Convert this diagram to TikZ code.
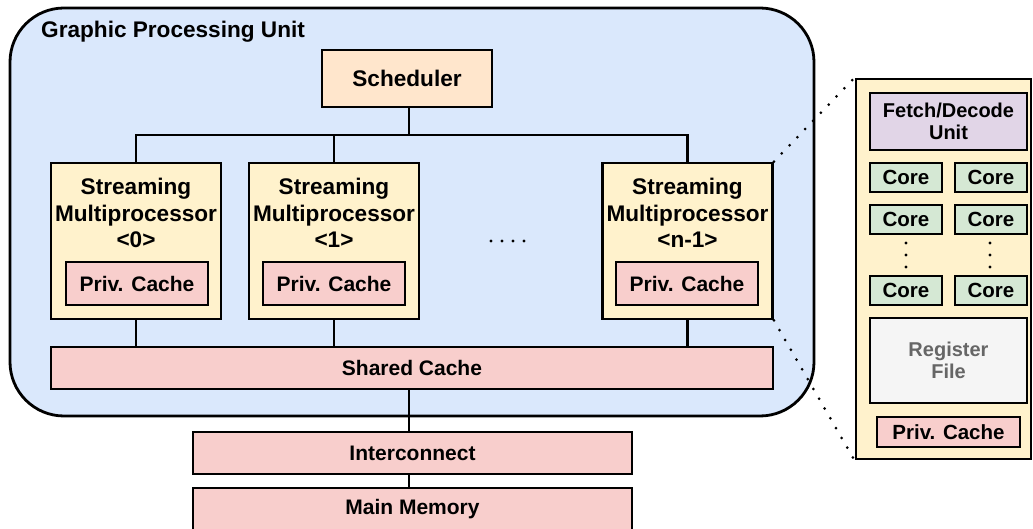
\documentclass[tikz,border=0pt]{standalone}
\usepackage{fontspec}
\setmainfont{Liberation Sans}
\definecolor{gpufill}{HTML}{DAE8FC}
\definecolor{schedfill}{HTML}{FFE6CC}
\definecolor{smfill}{HTML}{FFF2CC}
\definecolor{cachefill}{HTML}{F8CECC}
\definecolor{corefill}{HTML}{D5E8D4}
\definecolor{fetchfill}{HTML}{E1D5E7}
\definecolor{regfill}{HTML}{F5F5F5}
\definecolor{regtext}{HTML}{666666}
\tikzset{
  unit/.style={draw=black, line width=2.8pt, inner sep=0pt, align=center,
    font=\bfseries\fontsize{21}{26}\selectfont},
  smbox/.style={unit, fill=smfill, minimum width=170pt, minimum height=156pt},
  cachebox/.style={unit, fill=cachefill},
  corebox/.style={unit, fill=corefill, minimum width=72pt, minimum height=29pt,
    font=\bfseries\fontsize{20.5}{25}\selectfont},
  wire/.style={line width=2.6pt},
  zoomline/.style={line width=3pt, line cap=round, dash pattern=on 0pt off 11.3pt},
  dotmark/.style={fill=black, inner sep=0pt, minimum size=3.2pt, circle},
  biglabel/.style={font=\bfseries\fontsize{22.6}{26.5}\selectfont, inner sep=0pt, align=center},
  label/.style={font=\bfseries\fontsize{21}{26}\selectfont, inner sep=0pt, align=center}
}
\begin{document}
\begin{tikzpicture}[x=1pt, y=-1pt]
  \useasboundingbox (0,0) rectangle (1033,529);
  \clip (0,0) rectangle (1033,529);

  % GPU enclosure
  \node[draw=black, line width=2.8pt, fill=gpufill, rounded corners=54pt,
        minimum width=804pt, minimum height=408pt] (gpu) at (412,212) {};
  \node[biglabel, anchor=base west] (gputitle) at (41,38) {Graphic Processing Unit};

  % scheduler
  \node[unit, fill=schedfill, minimum width=170pt, minimum height=57pt,
        font=\bfseries\fontsize{22.6}{26}\selectfont] (sched) at (407,78.5) {Scheduler};

  % streaming multiprocessors
  \node[smbox] (sm0) at (136,241) {};
  \node[smbox] (sm1) at (334,241) {};
  \node[smbox] (smN) at (687.5,241) {};
  \node[biglabel] (sm0t) at (136,213) {Streaming\\Multiprocessor\\<0>};
  \node[biglabel] (sm1t) at (334,213) {Streaming\\Multiprocessor\\<1>};
  \node[biglabel] (smNt) at (687.5,213) {Streaming\\Multiprocessor\\<n-1>};
  \node[cachebox, minimum width=142pt, minimum height=43pt] (pc0) at (137,283.5) {Priv. Cache};
  \node[cachebox, minimum width=142pt, minimum height=43pt] (pc1) at (334,283.5) {Priv. Cache};
  \node[cachebox, minimum width=142pt, minimum height=43pt] (pcN) at (687,283.5) {Priv. Cache};

  % ellipsis between multiprocessors
  \foreach \x [count=\i] in {491,502,513,524}
    \node[dotmark] (gap\i) at (\x,241) {};

  % shared cache, interconnect, main memory
  \node[cachebox, minimum width=722pt, minimum height=42pt] (shared) at (412,368) {Shared Cache};
  \node[cachebox, minimum width=439pt, minimum height=42pt] (inter) at (412.5,453) {Interconnect};
  \node[cachebox, minimum width=439pt, minimum height=60pt] (mem) at (412.5,518) {};
  \node[label] (memt) at (412.5,509) {Main Memory};

  % scheduler fan-out
  \coordinate (bus) at (409,135);
  \draw[wire] (sched.south -| bus) -- (bus);
  \draw[wire] (sm0.north) |- (bus) -| (smN.north);
  \draw[wire] (sm1.north) -- (sm1.north |- bus);

  % multiprocessors to shared cache
  \draw[wire] (sm0.south) -- (sm0.south |- shared.north);
  \draw[wire] (sm1.south) -- (sm1.south |- shared.north);
  \draw[wire] (smN.south) -- (smN.south |- shared.north);

  % memory path
  \draw[wire] (shared.south -| bus) -- (inter.north -| bus);
  \draw[wire] (inter.south -| bus) -- (mem.north -| bus);

  % detail of one multiprocessor
  \node[unit, fill=smfill, minimum width=175pt, minimum height=380pt] (panel) at (943.5,269) {};
  \node[unit, fill=fetchfill, minimum width=157pt, minimum height=57pt,
        font=\bfseries\fontsize{20}{22}\selectfont] (fetch) at (948.5,121.5) {Fetch/Decode\\Unit};
  \node[corebox] (c11) at (906,177.5) {Core};
  \node[corebox] (c12) at (991,177.5) {Core};
  \node[corebox] (c21) at (906,219.5) {Core};
  \node[corebox] (c22) at (991,219.5) {Core};
  \node[corebox] (c31) at (906,290.5) {Core};
  \node[corebox] (c32) at (991,290.5) {Core};
  \foreach \y [count=\i] in {243,255,267} {
    \node[dotmark] (vl\i) at (906,\y) {};
    \node[dotmark] (vr\i) at (990,\y) {};
  }
  \node[unit, fill=regfill, text=regtext, minimum width=157pt, minimum height=85pt,
        font=\bfseries\fontsize{20}{22}\selectfont] (reg) at (948.5,360.5) {Register\\File};
  \node[cachebox, minimum width=143pt, minimum height=30pt,
        font=\bfseries\fontsize{20.5}{25}\selectfont] (pcP) at (948.5,432) {Priv. Cache};

  % zoom guides
  \draw[zoomline] (smN.north east) -- (panel.north west);
  \draw[zoomline] (smN.south east) -- (panel.south west);
\end{tikzpicture}
\end{document}
